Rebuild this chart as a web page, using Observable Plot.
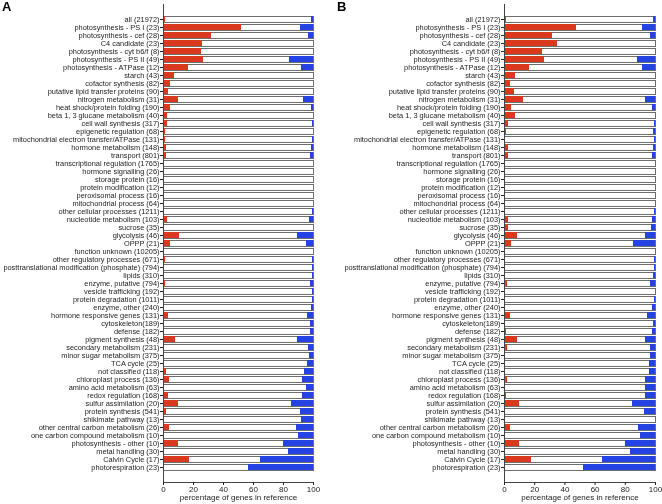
<!DOCTYPE html>
<html>
<head>
<meta charset="utf-8">
<script src="https://cdn.jsdelivr.net/npm/d3@7"></script>
<script src="https://cdn.jsdelivr.net/npm/@observablehq/plot@0.6"></script>
<style>
  html, body { margin: 0; padding: 0; background: white; }
  #wrap { position: relative; width: 662px; height: 504px; overflow: hidden; }
  .panel { position: absolute; top: 0; will-change: transform; }
  .tag { position: absolute; top: -1px; font-family: "Liberation Sans", Arial, sans-serif; font-weight: bold; font-size: 13px; }
</style>
</head>
<body>
<div id="wrap">
  <div class="panel" id="pa" style="left:0px"></div>
  <div class="panel" id="pb" style="left:331px"></div>
  <span class="tag" style="left:2px">A</span>
  <span class="tag" style="left:337px">B</span>
</div>
<script>
const categories = [
  "all (21972)", "photosynthesis - PS I (23)", "photosynthesis - cef (28)", "C4 candidate (23)",
  "photosynthesis - cyt b6/f (8)", "photosynthesis - PS II (49)", "photosynthesis - ATPase (12)",
  "starch (43)", "cofactor synthesis (82)", "putative lipid transfer proteins (90)",
  "nitrogen metabolism (31)", "heat shock/protein folding (190)", "beta 1, 3 glucane metabolism (40)",
  "cell wall synthesis (317)", "epigenetic regulation (68)", "mitochondrial electron transfer/ATPase (131)",
  "hormone metabolism (148)", "transport (801)", "transcriptional regulation (1765)",
  "hormone signalling (26)", "storage protein (16)", "protein modification (12)",
  "peroxisomal process (16)", "mitochondrial process (64)", "other cellular processes (1211)",
  "nucleotide metabolism (103)", "sucrose (35)", "glycolysis (46)", "OPPP (21)",
  "function unknown (10205)", "other regulatory processes (671)",
  "posttranslational modification (phosphate) (794)", "lipids (310)", "enzyme, putative (794)",
  "vesicle trafficking (192)", "protein degradation (1011)", "enzyme, other (240)",
  "hormone responsive genes (131)", "cytoskeleton(189)", "defense (182)", "pigment synthesis (48)",
  "secondary metabolism (231)", "minor sugar metabolism (375)", "TCA cycle (25)",
  "not classified (118)", "chloroplast process (136)", "amino acid metabolism (63)",
  "redox regulation (168)", "sulfur assimilation (20)", "protein synthesis (541)",
  "shikimate pathway (13)", "other central carbon metabolism (26)",
  "one carbon compound metabolism (10)", "photosynthesis - other (10)", "metal handling (30)",
  "Calvin Cycle (17)", "photorespiration (23)"
];

const redA = [1.5, 52.2, 32.2, 26.1, 25, 26.5, 16.7, 7, 4.9, 3.3, 9.7, 4.7, 2.5, 2.5, 1.5, 1.5, 2, 2, 0.3,
  0, 0, 0, 0, 0, 0.3, 2.9, 0, 10.9, 4.8, 0.1, 1, 0.3, 0, 1.5, 0, 0.2, 0, 3.1, 0, 0, 8.3, 0.9, 0.3, 0,
  1.7, 3.7, 0, 3, 10, 1.7, 0, 3.8, 0, 10, 0, 17.6, 0];
const blueA = [1.3, 8.7, 3.6, 0, 0, 16.3, 8.3, 0, 0, 0, 6.5, 1.6, 0, 0.7, 0, 0.8, 1.4, 2, 0.2,
  0, 0, 0, 0, 0, 0.4, 2.9, 0, 10.9, 4.8, 0.2, 0.9, 0.7, 0.4, 2, 0.7, 0.7, 1.5, 4.2, 2.1, 2.2, 10.4, 3.3,
  2.9, 4, 5.9, 7.4, 4.8, 7.1, 15, 8.7, 7.7, 11.5, 10, 20, 16.7, 35.3, 43.5];
const redB = [1.5, 47.8, 32.1, 34.8, 25, 26.5, 16.7, 7, 3.7, 6.7, 12.9, 4.7, 7.5, 2.8, 1.5, 0.8, 2.7, 2.7, 0.3,
  0, 0, 0, 0, 0, 0.3, 2.9, 2.9, 8.7, 4.8, 0.1, 0.4, 0.3, 0.3, 2, 0.5, 0.3, 0, 3.8, 0, 1.6, 8.3, 2.2, 0.8, 0,
  0.8, 2.2, 0, 1.2, 10, 0.7, 0, 3.8, 0, 10, 0, 17.6, 0];
const blueB = [1.5, 8.7, 3.6, 0, 0, 12.2, 8.3, 0, 0, 0, 6.5, 2.1, 0, 0.6, 1.5, 0.8, 1.4, 2.2, 0.3,
  0, 0, 0, 0, 0, 0.5, 1.9, 2.9, 6.5, 14.3, 0.2, 0.5, 0.5, 1, 3.5, 0.3, 0.4, 2.1, 5.3, 1, 2.2, 6.3, 3,
  3.2, 4, 4.2, 6.6, 6.3, 6.5, 15, 7.4, 0, 11.5, 10, 20, 16.7, 35.3, 47.8];

const xTicks = [0, 20, 40, 60, 80, 100];
const axisTitle = "percentage of genes in reference";
const RED = "#d93a1d";
const BLUE = "#2343e3";

function panel(red, blue, ml, mr) {
  const rows = categories.map((c, i) => ({c, r: red[i], b: blue[i]}));
  return Plot.plot({
    width: 331, height: 504,
    marginLeft: ml, marginRight: mr, marginTop: 4, marginBottom: 22,
    style: {fontFamily: "'Liberation Sans', Arial, sans-serif", background: "transparent", color: "#222"},
    x: {domain: [0, 100], ticks: xTicks, label: null},
    y: {domain: categories, padding: 0.28, label: null},
    marks: [
      Plot.barX(rows, {x1: 0, x2: 100, y: "c", fill: "white", stroke: "#6e6e6e", strokeWidth: 1, shapeRendering: "crispEdges"}),
      Plot.barX(rows.filter(d => d.r > 0), {x1: 0, x2: "r", y: "c", fill: RED, shapeRendering: "crispEdges"}),
      Plot.barX(rows.filter(d => d.b > 0), {x1: d => 100 - d.b, x2: 100, y: "c", fill: BLUE, shapeRendering: "crispEdges"}),
      Plot.ruleX([0], {stroke: "#444", strokeWidth: 1, shapeRendering: "crispEdges"}),
      Plot.frame({anchor: "bottom", stroke: "#444", shapeRendering: "crispEdges"}),
      Plot.axisY({tickSize: 3, tickPadding: 1, fontSize: 7.4}),
      Plot.axisX({ticks: xTicks, tickSize: 3, tickPadding: 0.5, fontSize: 8, label: null}),
      Plot.text([axisTitle], {frameAnchor: "bottom", dy: 17.5, fontSize: 8, fill: "#222"})
    ]
  });
}

document.getElementById("pa").append(panel(redA, blueA, 163, 18));
document.getElementById("pb").append(panel(redB, blueB, 173, 7));
</script>
</body>
</html>
